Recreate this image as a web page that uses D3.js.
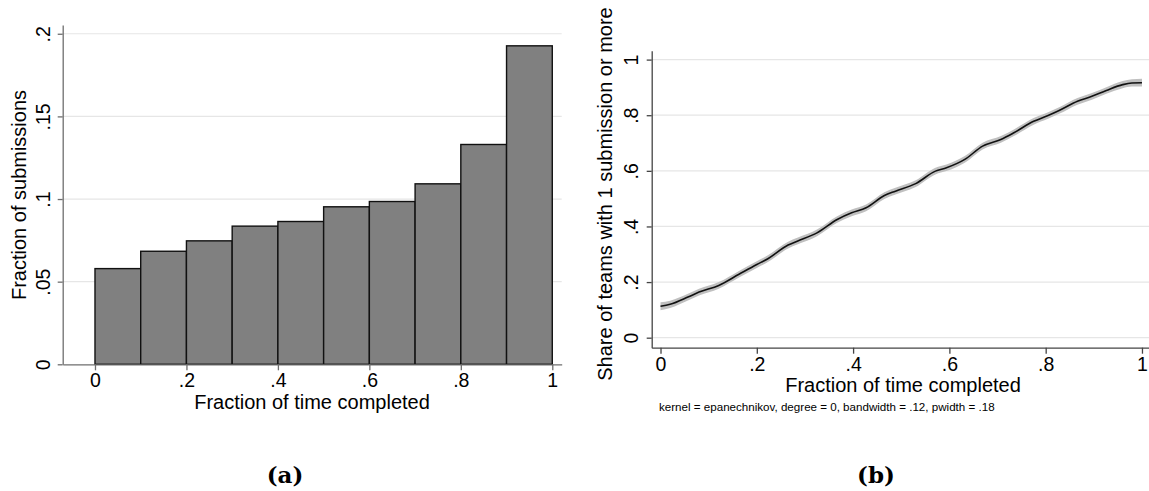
<!DOCTYPE html>
<html>
<head>
<meta charset="utf-8">
<script src="https://cdn.jsdelivr.net/npm/d3@7"></script>
<style>
  html, body { margin: 0; padding: 0; background: #fff; }
  svg { display: block; }
  text { font-family: "Liberation Sans", Arial, sans-serif; fill: #000; }
</style>
</head>
<body>
<svg id="fig" width="1149" height="491"></svg>
<script>
// ---- Panel (a): histogram of submission timing ----
const binStarts = [0, 0.1, 0.2, 0.3, 0.4, 0.5, 0.6, 0.7, 0.8, 0.9];
const binWidth = 0.1;
const binFractions = [0.0579, 0.0684, 0.0747, 0.0836, 0.0864, 0.0953, 0.0985, 0.1092, 0.1330, 0.1927];
const histXTicks = [0, 0.2, 0.4, 0.6, 0.8, 1];
const histYTicks = [0, 0.05, 0.1, 0.15, 0.2];

// ---- Panel (b): local polynomial smooth with confidence band ----
const timeGrid = [0, 0.02, 0.057, 0.08, 0.121, 0.163, 0.2, 0.223, 0.265, 0.284, 0.325, 0.367, 0.397, 0.427,
  0.465, 0.488, 0.53, 0.571, 0.594, 0.632, 0.669, 0.707, 0.734, 0.775, 0.805, 0.828, 0.866, 0.896, 0.926,
  0.96, 0.979, 1.0];
const shareSmooth = [0.113, 0.12, 0.146, 0.164, 0.188, 0.228, 0.263, 0.284, 0.333, 0.347, 0.377, 0.425, 0.449,
  0.467, 0.511, 0.527, 0.554, 0.599, 0.611, 0.641, 0.689, 0.713, 0.737, 0.778, 0.799, 0.817, 0.850, 0.868,
  0.889, 0.910, 0.916, 0.917];
const shareLow = [0.099, 0.107, 0.134, 0.152, 0.176, 0.216, 0.251, 0.272, 0.321, 0.335, 0.365, 0.413, 0.437,
  0.455, 0.499, 0.515, 0.542, 0.587, 0.599, 0.629, 0.677, 0.701, 0.725, 0.766, 0.787, 0.805, 0.838, 0.856,
  0.877, 0.897, 0.903, 0.903];
const shareHigh = [0.127, 0.133, 0.158, 0.176, 0.200, 0.240, 0.275, 0.296, 0.345, 0.359, 0.389, 0.437, 0.461,
  0.479, 0.523, 0.539, 0.566, 0.611, 0.623, 0.653, 0.701, 0.725, 0.749, 0.790, 0.811, 0.829, 0.862, 0.880,
  0.901, 0.923, 0.929, 0.931];
const smoothXTicks = [0, 0.2, 0.4, 0.6, 0.8, 1];
const smoothYTicks = [0, 0.2, 0.4, 0.6, 0.8, 1];

const fmt = v => v === 0 ? "0" : (v === 1 ? "1" : String(v).replace(/^0/, ""));

const svg = d3.select("#fig");
const GRID = "#e6e6e6", AXIS = "#6e6e6e", TICKFONT = 19.5, TITLEFONT = 20;

// Shared Stata-like axis styling
function styleAxis(g, color) {
  g.select(".domain").attr("stroke", color).attr("stroke-width", 1.3);
  g.selectAll(".tick line").attr("stroke", color).attr("stroke-width", 1.3);
  g.selectAll(".tick text").style("font-size", TICKFONT + "px").attr("fill", "#000");
}

// ===== Panel (a) =====
{
  const x = d3.scaleLinear().domain([-0.0706, 1.0206]).range([62.7, 561.7]);
  const y = d3.scaleLinear().domain([0, 0.2053]).range([364.3, 25]);
  const g = svg.append("g");

  g.append("g").selectAll("line").data(histYTicks.filter(d => d > 0)).join("line")
    .attr("x1", x.range()[0]).attr("x2", x.range()[1])
    .attr("y1", d => y(d)).attr("y2", d => y(d))
    .attr("stroke", GRID).attr("stroke-width", 1.2);

  g.append("g").selectAll("rect").data(binStarts).join("rect")
    .attr("x", d => x(d))
    .attr("width", x(binWidth) - x(0))
    .attr("y", (d, i) => y(binFractions[i]))
    .attr("height", (d, i) => y(0) - y(binFractions[i]))
    .attr("fill", "#808080").attr("stroke", "#111").attr("stroke-width", 1.4);

  const xa = g.append("g").attr("transform", `translate(0,${y(0)})`)
    .call(d3.axisBottom(x).tickValues(histXTicks).tickFormat(fmt).tickSize(6).tickPadding(3).tickSizeOuter(0));
  styleAxis(xa, AXIS);

  const ya = g.append("g").attr("transform", `translate(${x.range()[0]},0)`)
    .call(d3.axisLeft(y).tickValues(histYTicks).tickFormat(fmt).tickSize(5).tickSizeOuter(0));
  styleAxis(ya, AXIS);
  ya.selectAll(".tick text")
    .attr("x", null).attr("dy", null)
    .attr("text-anchor", "middle")
    .attr("transform", "translate(-13,0) rotate(-90)");

  g.append("text").attr("x", 312).attr("y", 409).attr("text-anchor", "middle")
    .style("font-size", TITLEFONT + "px").text("Fraction of time completed");
  g.append("text").attr("transform", "translate(26,195) rotate(-90)").attr("text-anchor", "middle")
    .style("font-size", TITLEFONT + "px").text("Fraction of submissions");
}

// ===== Panel (b) =====
{
  const x = d3.scaleLinear().domain([-0.0183, 1.0146]).range([651.7, 1149]);
  const y = d3.scaleLinear().domain([-0.036, 1.032]).range([347.7, 50.7]);
  const g = svg.append("g");

  g.append("g").selectAll("line").data(smoothYTicks).join("line")
    .attr("x1", x.range()[0]).attr("x2", x.range()[1])
    .attr("y1", d => y(d)).attr("y2", d => y(d))
    .attr("stroke", GRID).attr("stroke-width", 1.2);

  const band = d3.area()
    .x(d => x(d)).y0((d, i) => y(shareLow[i])).y1((d, i) => y(shareHigh[i]))
    .curve(d3.curveMonotoneX);
  g.append("path").datum(timeGrid).attr("d", band).attr("fill", "#c0c0c0");

  const line = d3.line().x(d => x(d)).y((d, i) => y(shareSmooth[i])).curve(d3.curveMonotoneX);
  g.append("path").datum(timeGrid).attr("d", line)
    .attr("fill", "none").attr("stroke", "#111").attr("stroke-width", 1.6);

  const xa = g.append("g").attr("transform", `translate(0,${y.range()[0]})`)
    .call(d3.axisBottom(x).tickValues(smoothXTicks).tickFormat(fmt).tickSize(6).tickPadding(3).tickSizeOuter(0));
  styleAxis(xa, "#444");

  const ya = g.append("g").attr("transform", `translate(${x.range()[0]},0)`)
    .call(d3.axisLeft(y).tickValues(smoothYTicks).tickFormat(fmt).tickSize(5).tickSizeOuter(0));
  styleAxis(ya, "#444");
  ya.selectAll(".tick text")
    .attr("x", null).attr("dy", null)
    .attr("text-anchor", "middle")
    .attr("transform", "translate(-13.7,0) rotate(-90)");

  g.append("text").attr("x", 903).attr("y", 392).attr("text-anchor", "middle")
    .style("font-size", TITLEFONT + "px").text("Fraction of time completed");
  g.append("text").attr("transform", "translate(612,194) rotate(-90)").attr("text-anchor", "middle")
    .style("font-size", TITLEFONT + "px").text("Share of teams with 1 submission or more");
  g.append("text").attr("x", 659).attr("y", 411).attr("text-anchor", "start")
    .style("font-size", "11.6px").text("kernel = epanechnikov, degree = 0, bandwidth = .12, pwidth = .18");
}

// ===== Sub-figure captions =====
svg.selectAll("text.caption").data([{t: "(a)", x: 285}, {t: "(b)", x: 876}]).join("text")
  .attr("class", "caption")
  .attr("x", d => d.x).attr("y", 483).attr("text-anchor", "middle")
  .style("font-family", "'DejaVu Serif', 'Liberation Serif', serif")
  .style("font-weight", "bold").style("font-size", "23px")
  .text(d => d.t);
</script>
</body>
</html>
